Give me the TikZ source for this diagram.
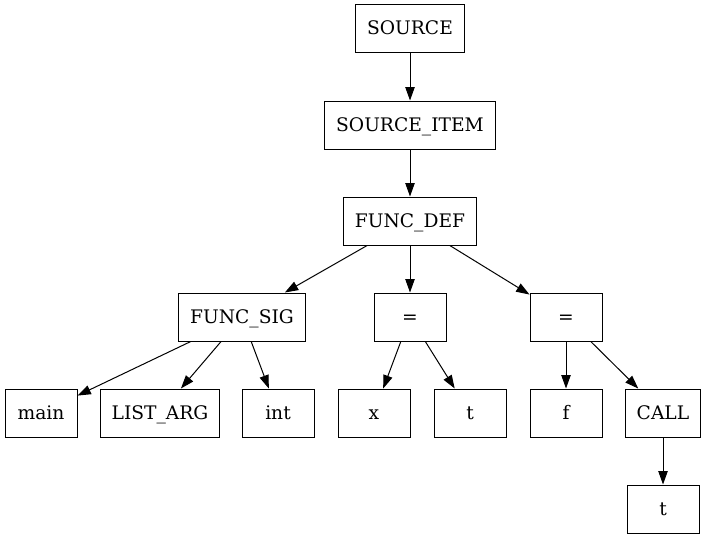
\documentclass[tikz,border=0pt]{standalone}
\usepackage{fontspec}
\setmainfont{DejaVu Serif}
\usetikzlibrary{arrows.meta}
\begin{document}
\begin{tikzpicture}[x=0.75pt,y=-0.75pt,
  box/.style={draw,line width=0.75pt,rectangle,minimum height=36pt,minimum width=54pt,inner xsep=8.5pt,inner ysep=0pt,text height=11pt,text depth=1pt,font=\fontsize{14pt}{16pt}\selectfont},
  edge/.style={line width=0.75pt,-{Triangle[length=10pt,width=7pt]}}]
\useasboundingbox (0,0) rectangle (706,539);
\node[box] (source) at (410,28) {SOURCE};
\node[box] (item) at (410,125) {SOURCE\_ITEM};
\node[box] (fdef) at (410,221) {FUNC\_DEF};
\node[box] (fsig) at (242,317) {FUNC\_SIG};
\node[box] (eq1) at (410,317) {=};
\node[box] (eq2) at (566,317) {=};
\node[box] (main) at (41,413) {main};
\node[box] (larg) at (160,413) {LIST\_ARG};
\node[box] (int) at (278,413) {int};
\node[box] (x) at (374,413) {x};
\node[box] (t1) at (470,413) {t};
\node[box] (f) at (566,413) {f};
\node[box] (call) at (663,413) {CALL};
\node[box] (t2) at (663,509) {t};
\draw[edge] (source) -- (item);
\draw[edge] (item) -- (fdef);
\draw[edge] (fdef) -- (fsig);
\draw[edge] (fdef) -- (eq1);
\draw[edge] (fdef) -- (eq2);
\draw[edge] (fsig) -- (main);
\draw[edge] (fsig) -- (larg);
\draw[edge] (fsig) -- (int);
\draw[edge] (eq1) -- (x);
\draw[edge] (eq1) -- (t1);
\draw[edge] (eq2) -- (f);
\draw[edge] (eq2) -- (call);
\draw[edge] (call) -- (t2);
\end{tikzpicture}
\end{document}
